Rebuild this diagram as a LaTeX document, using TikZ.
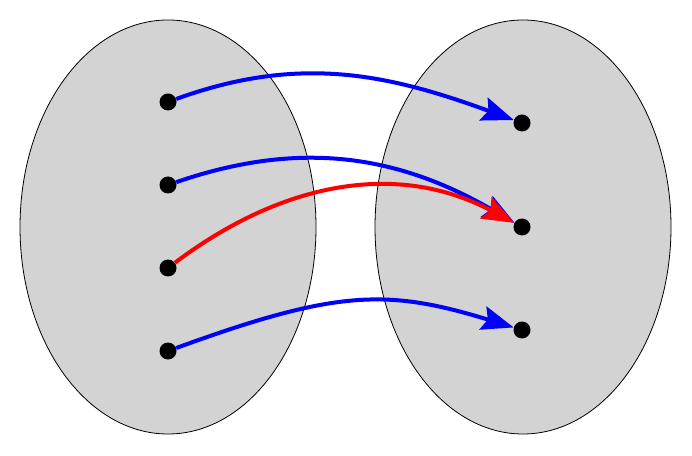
\documentclass[tikz,border=0pt]{standalone}
\usetikzlibrary{arrows.meta}
\begin{document}
\begin{tikzpicture}[x=1pt,y=1pt,
  setellipse/.style={draw=black,line width=0.8pt,fill={rgb,255:red,211;green,211;blue,211}},
  dot/.style={circle,fill=black,inner sep=0pt,minimum size=17pt},
  mapArrow/.style={line width=4pt,-{Stealth[length=32pt,width=24pt,inset=5pt]}}]
\useasboundingbox (0,0) rectangle (692,455);
\draw[setellipse] (168,228) ellipse [x radius=148, y radius=207];
\draw[setellipse] (523,228) ellipse [x radius=148, y radius=207];
\node[dot] (a1) at (168,353) {};
\node[dot] (a2) at (168,270) {};
\node[dot] (a3) at (168,187) {};
\node[dot] (a4) at (168,104) {};
\node[dot] (b1) at (522,332) {};
\node[dot] (b2) at (522,228) {};
\node[dot] (b3) at (522,125) {};
\draw[mapArrow,blue] (a1) to[out=20,in=160] (b1);
\draw[mapArrow,blue] (a2) to[out=19,in=150] (b2);
\draw[mapArrow,red] (a3) to[out=37,in=152] (b2);
\draw[mapArrow,blue] (a4) to[out=20,in=163,out looseness=1.3] (b3);
\end{tikzpicture}
\end{document}
